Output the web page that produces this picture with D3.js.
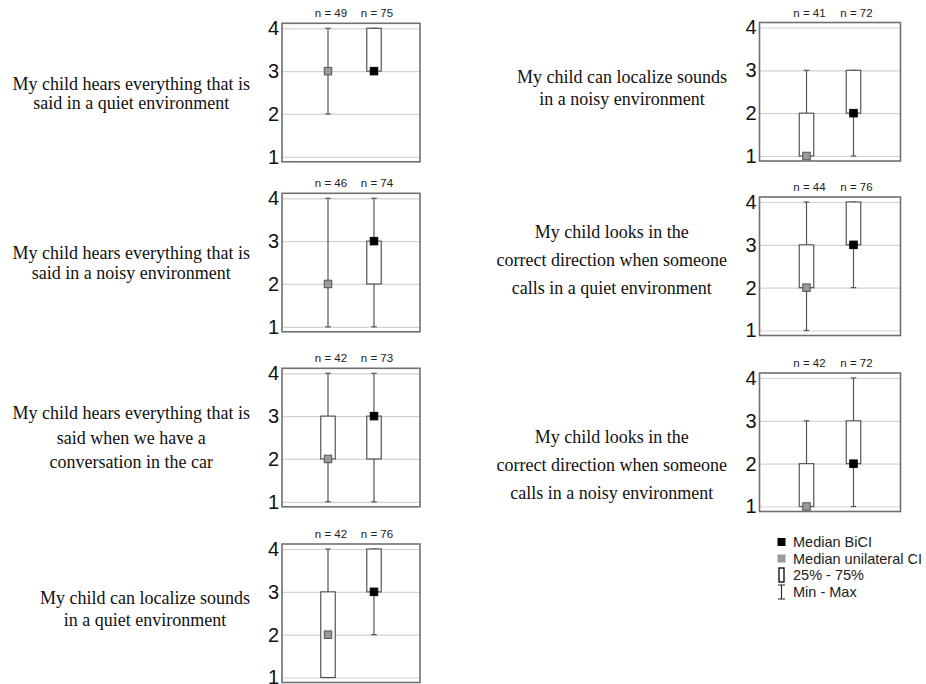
<!DOCTYPE html>
<html>
<head>
<meta charset="utf-8">
<script src="https://cdn.jsdelivr.net/npm/d3@7"></script>
<style>
  body { margin: 0; background: #fff; }
  svg { display: block; }
</style>
</head>
<body>
<div id="chart"></div>
<script>
// questions shown left of each panel, one entry per line
const questions = [
    ["My child hears everything that is", "said in a quiet environment"],
    ["My child hears everything that is", "said in a noisy environment"],
    ["My child hears everything that is", "said when we have a", "conversation in the car"],
    ["My child can localize sounds", "in a quiet environment"],
    ["My child can localize sounds", "in a noisy environment"],
    ["My child looks in the", "correct direction when someone", "calls in a quiet environment"],
    ["My child looks in the", "correct direction when someone", "calls in a noisy environment"]
];
const groups = ["uni", "bi"];
const nUni = [49, 46, 42, 42, 41, 44, 42];
const nBi = [75, 74, 73, 76, 72, 76, 72];
// [min, q1, median, q3, max]
const uniStats = [[2, 3, 3, 3, 4], [1, 2, 2, 2, 4], [1, 2, 2, 3, 4], [1, 1, 2, 3, 4], [1, 1, 1, 2, 3], [1, 2, 2, 3, 4], [1, 1, 1, 2, 3]];
const biStats = [[3, 3, 3, 4, 4], [1, 2, 3, 3, 4], [1, 2, 3, 3, 4], [2, 3, 3, 4, 4], [1, 2, 2, 3, 3], [2, 3, 3, 4, 4], [1, 2, 2, 3, 4]];
const yTicks = [1, 2, 3, 4];
const legendLabels = ["Median BiCI", "Median unilateral CI", "25% - 75%", "Min - Max"];

// panel placement (x/y = top-left of the value range, ty = text block centre)
const layout = [
    { x: 282, y: 28.3, w: 138, tr: 250, ty: 93, lh: 19 },
    { x: 282, y: 198.3, w: 138, tr: 250, ty: 263, lh: 20 },
    { x: 282, y: 373.3, w: 138, tr: 250, ty: 437.5, lh: 24.5 },
    { x: 282, y: 549, w: 138, tr: 250, ty: 609, lh: 22 },
    { x: 759.5, y: 27.5, w: 141, tr: 727, ty: 88, lh: 22.7 },
    { x: 759.5, y: 202, w: 141, tr: 727, ty: 260, lh: 28 },
    { x: 759.5, y: 378, w: 141, tr: 727, ty: 465, lh: 28 }
];

const W = 926, H = 684;
const span = 128.5, pad = 5;
const boxW = 14.5, capW = 5.5, mk = 7.5;
const sans = "'Liberation Sans', Arial, sans-serif";
const serif = "'Liberation Serif', 'Times New Roman', serif";

const svg = d3.select("#chart").append("svg")
    .attr("width", W)
    .attr("height", H);

questions.forEach(function (lines, i) {
    const L = layout[i];
    const g = svg.append("g").attr("transform", "translate(" + L.x + "," + L.y + ")");

    const x = d3.scalePoint().domain(groups).range([0, L.w]).padding(1);
    const y = d3.scaleLinear().domain([1, 4]).range([span, 0]);

    // grid lines
    g.append("g")
        .call(d3.axisLeft(y).tickValues(yTicks).tickSize(-L.w).tickFormat(""))
        .call(a => a.select(".domain").remove())
        .selectAll("line")
        .attr("stroke", "#d2d2d2")
        .attr("stroke-width", 1.2);

    // frame
    g.append("rect")
        .attr("x", 0)
        .attr("y", -pad)
        .attr("width", L.w)
        .attr("height", span + pad * 2)
        .attr("fill", "none")
        .attr("stroke", "#707070")
        .attr("stroke-width", 1.6);

    // tick labels
    g.append("g")
        .call(d3.axisLeft(y).tickValues(yTicks).tickSize(0).tickPadding(3).tickFormat(d3.format("d")))
        .call(a => a.select(".domain").remove())
        .selectAll("text")
        .attr("fill", "#111")
        .style("font-family", sans)
        .style("font-size", "20px");

    const stats = [
        { key: "uni", s: uniStats[i], n: nUni[i], fill: "#9a9a9a", stroke: "#555" },
        { key: "bi", s: biStats[i], n: nBi[i], fill: "#000", stroke: "#000" }
    ];

    stats.forEach(function (d) {
        const cx = x(d.key);
        // whisker
        g.append("line")
            .attr("x1", cx).attr("x2", cx)
            .attr("y1", y(d.s[0])).attr("y2", y(d.s[4]))
            .attr("stroke", "#555").attr("stroke-width", 1.2);
        [d.s[0], d.s[4]].forEach(function (v) {
            g.append("line")
                .attr("x1", cx - capW / 2).attr("x2", cx + capW / 2)
                .attr("y1", y(v)).attr("y2", y(v))
                .attr("stroke", "#555").attr("stroke-width", 1.2);
        });
        // interquartile box
        g.append("rect")
            .attr("x", cx - boxW / 2)
            .attr("y", y(d.s[3]))
            .attr("width", boxW)
            .attr("height", y(d.s[1]) - y(d.s[3]))
            .attr("fill", "#fff")
            .attr("stroke", "#555")
            .attr("stroke-width", 1.2);
        // median
        g.append("rect")
            .attr("x", cx - mk / 2)
            .attr("y", y(d.s[2]) - mk / 2)
            .attr("width", mk)
            .attr("height", mk)
            .attr("fill", d.fill)
            .attr("stroke", d.stroke)
            .attr("stroke-width", 1);
        // n label
        g.append("text")
            .attr("x", cx + 3)
            .attr("y", -pad - 6)
            .attr("text-anchor", "middle")
            .attr("fill", "#222")
            .style("font-family", sans)
            .style("font-size", "11.5px")
            .text("n = " + d.n);
    });

    // question text, centred block with right edge fixed
    const t = svg.append("text")
        .attr("fill", "#111")
        .style("font-family", serif)
        .style("font-size", "18px");
    lines.forEach(function (line) {
        t.append("tspan").text(line);
    });
    let maxW = 0;
    t.selectAll("tspan").each(function () { maxW = Math.max(maxW, this.getComputedTextLength()); });
    const cxText = L.tr - maxW / 2;
    const y0 = L.ty - (lines.length - 1) * L.lh / 2;
    t.selectAll("tspan")
        .attr("x", cxText)
        .attr("y", (d, k) => y0 + k * L.lh)
        .attr("text-anchor", "middle")
        .attr("dominant-baseline", "central");
});

// legend
const lg = svg.append("g").attr("transform", "translate(781.5,0)");
const rowY = [542, 558.5, 575, 592];
lg.append("rect").attr("x", -4).attr("y", rowY[0] - 4).attr("width", 8).attr("height", 8).attr("fill", "#000");
lg.append("rect").attr("x", -4).attr("y", rowY[1] - 4).attr("width", 8).attr("height", 8).attr("fill", "#9a9a9a");
lg.append("rect").attr("x", -2.5).attr("y", rowY[2] - 7).attr("width", 5).attr("height", 14)
    .attr("fill", "#fff").attr("stroke", "#000").attr("stroke-width", 1.3);
lg.append("path")
    .attr("d", "M-3.5," + (rowY[3] - 7) + "H3.5M0," + (rowY[3] - 7) + "V" + (rowY[3] + 7) + "M-3.5," + (rowY[3] + 7) + "H3.5")
    .attr("fill", "none").attr("stroke", "#222").attr("stroke-width", 1.1);
lg.selectAll("text.leg")
    .data(legendLabels)
    .enter().append("text")
    .attr("class", "leg")
    .attr("x", 11.5)
    .attr("y", (d, i) => rowY[i])
    .attr("dominant-baseline", "central")
    .attr("fill", "#222")
    .style("font-family", sans)
    .style("font-size", "14.5px")
    .text(d => d);
</script>
</body>
</html>
